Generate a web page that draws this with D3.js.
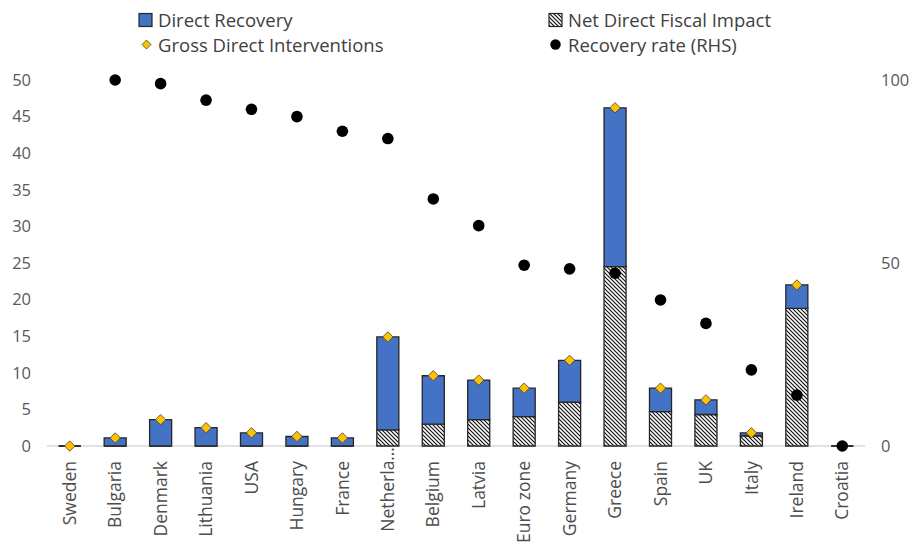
<!DOCTYPE html>
<html>
<head>
<meta charset="utf-8">
<script src="https://cdn.jsdelivr.net/npm/d3@7"></script>
<style>
  html, body { margin: 0; padding: 0; background: #fff; }
  svg { display: block; font-family: "Open Sans", sans-serif; }
</style>
</head>
<body>
<svg id="chart" width="909" height="546"></svg>
<script>
// ---- data ----
const categories = ["Sweden", "Bulgaria", "Denmark", "Lithuania", "USA", "Hungary", "France", "Netherla\u2026",
  "Belgium", "Latvia", "Euro zone", "Germany", "Greece", "Spain", "UK", "Italy", "Ireland", "Croatia"];
const netDirectFiscalImpact = [0, 0, 0, 0, 0, 0, 0, 2.2, 3.0, 3.6, 4.0, 6.0, 24.5, 4.7, 4.3, 1.4, 18.8, 0];
const directRecovery = [0, 1.1, 3.6, 2.5, 1.8, 1.3, 1.1, 12.7, 6.6, 5.4, 3.9, 5.7, 21.7, 3.2, 2.0, 0.4, 3.2, 0];
const grossDirectInterventions = [0, 1.1, 3.6, 2.5, 1.8, 1.3, 1.1, 14.9, 9.6, 9.0, 7.9, 11.7, 46.2, 7.9, 6.3, 1.8, 22.0, 0];
const recoveryRate = [null, 100, 99, 94.5, 92, 90, 86, 84, 67.5, 60.2, 49.4, 48.4, 47.2, 39.9, 33.5, 20.8, 13.9, 0];
const leftTicks = [0, 5, 10, 15, 20, 25, 30, 35, 40, 45, 50];
const rightTicks = [0, 50, 100];
const legendLabels = ["Direct Recovery", "Net Direct Fiscal Impact", "Gross Direct Interventions", "Recovery rate (RHS)"];

// ---- layout ----
const svg = d3.select("#chart");
const X0 = 47, X1 = 865, Y0 = 446, Y1 = 80;
const BLUE = "#4472C4", GOLD = "#FFC000", EDGE = "#262626", TXT = "#595959";

const x = d3.scaleBand().domain(categories).range([X0, X1]).paddingInner(0.515).paddingOuter(0.2575);
const yL = d3.scaleLinear().domain([0, 50]).range([Y0, Y1]);
const yR = d3.scaleLinear().domain([0, 100]).range([Y0, Y1]);

const defs = svg.append("defs");
const pat = defs.append("pattern").attr("id", "hatch").attr("patternUnits", "userSpaceOnUse")
  .attr("width", 4).attr("height", 4);
pat.append("rect").attr("width", 4).attr("height", 4).attr("fill", "#fff");
pat.append("path").attr("d", "M-1,-1 L5,5 M-1,3 L1,5 M3,-1 L5,1")
  .attr("stroke", "#111").attr("stroke-width", 1.2);

// axes
const axL = svg.append("g").attr("transform", `translate(${31},0)`)
  .call(d3.axisLeft(yL).tickValues(leftTicks).tickSize(0).tickPadding(0));
axL.select(".domain").remove();
axL.selectAll("text").attr("font-size", 16.5).attr("fill", TXT).attr("font-family", "Open Sans");

const axR = svg.append("g").attr("transform", `translate(${881},0)`)
  .call(d3.axisRight(yR).tickValues(rightTicks).tickSize(0).tickPadding(0));
axR.select(".domain").remove();
axR.selectAll("text").attr("font-size", 16.5).attr("fill", TXT).attr("font-family", "Open Sans");

// baseline
svg.append("line").attr("x1", X0).attr("x2", X1).attr("y1", yL(0)).attr("y2", yL(0))
  .attr("stroke", "#d9d9d9").attr("stroke-width", 1.5);

// category labels
const axB = svg.append("g").attr("transform", `translate(0,${Y0 + 15})`)
  .call(d3.axisBottom(x).tickSize(0).tickPadding(0));
axB.select(".domain").remove();
axB.selectAll("text")
  .attr("font-size", 17.5).attr("fill", "#4d4d4d").attr("font-family", "Open Sans")
  .attr("text-anchor", "end").attr("transform", "rotate(-90)")
  .attr("x", d => d.endsWith("\u2026") ? 14 : 0).attr("y", 0).attr("dy", "0.35em");

function barPath(xs, w, yTop, yBot) {
  return `M${xs},${yBot} H${xs + w} V${yTop} H${xs} Z`;
}
const bw = x.bandwidth();

const rows = categories.map((c, i) => ({
  c, net: netDirectFiscalImpact[i], rec: directRecovery[i],
  gross: grossDirectInterventions[i], rate: recoveryRate[i]
}));

// net direct fiscal impact (hatched)
svg.append("g").selectAll("path").data(rows).join("path")
  .attr("d", d => barPath(x(d.c), bw, yL(d.net), yL(0)))
  .attr("fill", "url(#hatch)").attr("stroke", EDGE).attr("stroke-width", 1.3);

// direct recovery (blue) stacked
svg.append("g").selectAll("path").data(rows).join("path")
  .attr("d", d => barPath(x(d.c), bw, yL(d.net + d.rec), yL(d.net)))
  .attr("fill", BLUE).attr("stroke", EDGE).attr("stroke-width", 1.3);

// gross direct interventions (diamonds)
const diamond = s => `M0,${-s} L${s},0 L0,${s} L${-s},0 Z`;
svg.append("g").selectAll("path").data(rows).join("path")
  .attr("transform", d => `translate(${x(d.c) + bw / 2},${yL(d.gross)})`)
  .attr("d", diamond(5.2)).attr("fill", GOLD).attr("stroke", "#3f3f3f").attr("stroke-width", 0.8);

// recovery rate (dots, RHS)
svg.append("g").selectAll("circle").data(rows.filter(d => d.rate !== null)).join("circle")
  .attr("cx", d => x(d.c) + bw / 2).attr("cy", d => yR(d.rate)).attr("r", 5.8).attr("fill", "#000");

// legend
const lg = svg.append("g").attr("font-family", "Open Sans").attr("font-size", 18.5).attr("fill", "#404040");
lg.append("rect").attr("x", 139).attr("y", 13.5).attr("width", 13).attr("height", 13)
  .attr("fill", BLUE).attr("stroke", EDGE).attr("stroke-width", 1.2);
lg.append("text").attr("x", 158).attr("y", 27).text(legendLabels[0]);
lg.append("rect").attr("x", 549).attr("y", 13.5).attr("width", 13).attr("height", 13)
  .attr("fill", "url(#hatch)").attr("stroke", EDGE).attr("stroke-width", 1.2);
lg.append("text").attr("x", 568).attr("y", 27).text(legendLabels[1]);
lg.append("path").attr("transform", "translate(146.5,44.5)").attr("d", diamond(4.5))
  .attr("fill", GOLD).attr("stroke", "#3f3f3f").attr("stroke-width", 0.8);
lg.append("text").attr("x", 158).attr("y", 52).text(legendLabels[2]);
lg.append("circle").attr("cx", 555.5).attr("cy", 44.5).attr("r", 5.2).attr("fill", "#000");
lg.append("text").attr("x", 568).attr("y", 52).text(legendLabels[3]);
</script>
</body>
</html>
